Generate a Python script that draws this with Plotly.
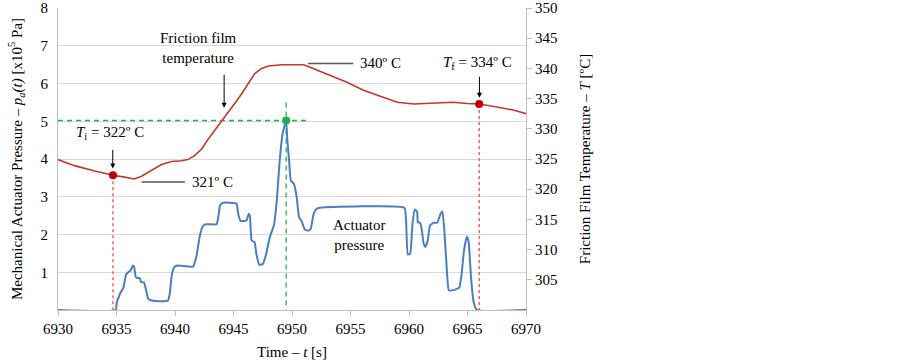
import plotly.graph_objects as go

# ---------------- data ----------------
pressure_time = [6930, 6934.95, 6935.0, 6935.3, 6935.6, 6935.8, 6936.0, 6936.2, 6936.4, 6936.5, 6936.65,
                 6936.8, 6937.0, 6937.1, 6937.35, 6937.6, 6937.7, 6938.0, 6938.7, 6939.4, 6939.55,
                 6939.7, 6939.9, 6940.2, 6941.55, 6941.85, 6942.1, 6942.3, 6942.55, 6943.55, 6943.7,
                 6943.85, 6944.1, 6945.25, 6945.4, 6945.6, 6946.1, 6946.3, 6946.4, 6946.55, 6946.8,
                 6946.95, 6947.2, 6947.5, 6947.8, 6948.1, 6948.45, 6948.7, 6948.95, 6949.2, 6949.5,
                 6949.6, 6949.75, 6949.9, 6950.15, 6950.4, 6950.6, 6950.8, 6951.1, 6951.4, 6951.6,
                 6951.85, 6952.1, 6952.4, 6959.6, 6959.75, 6959.9, 6960.1, 6960.3, 6960.5, 6960.7,
                 6960.75, 6960.95, 6961.1, 6961.25, 6961.4, 6961.6, 6961.8, 6962.1, 6962.4, 6962.7,
                 6962.85, 6963.0, 6963.2, 6963.4, 6963.65, 6964.1, 6964.3, 6964.5, 6964.7, 6964.95,
                 6965.1, 6965.3, 6965.5, 6965.8, 6970]
pressure_value = [0, 0, 0.16, 0.43, 0.6, 0.92, 1.0, 1.05, 1.18, 1.15, 0.87,
                  0.85, 0.84, 0.74, 0.73, 0.43, 0.3, 0.25, 0.23, 0.25, 0.43,
                  0.87, 1.12, 1.18, 1.15, 1.45, 1.93, 2.17, 2.27, 2.27, 2.46,
                  2.77, 2.84, 2.82, 2.55, 2.36, 2.37, 2.55, 2.5, 1.84, 1.8,
                  1.49, 1.2, 1.22, 1.49, 1.93, 2.24, 2.9, 3.97, 4.67, 5.02,
                  4.5, 3.97, 3.43, 3.35, 2.99, 2.46, 2.37, 2.13, 2.1, 2.15,
                  2.55, 2.68, 2.71, 2.71, 2.37, 1.47, 1.49, 2.29, 2.66, 2.6,
                  2.33, 2.31, 2.11, 1.76, 1.67, 1.84, 2.24, 2.31, 2.31, 2.55,
                  2.61, 2.2, 1.23, 0.52, 0.52, 0.56, 0.6, 0.96, 1.58, 1.95,
                  1.8, 0.87, 0.25, 0.0, 0.0]

temp_time = [6930, 6931.4, 6933.15, 6934.7, 6935.7, 6936.5, 6937.1, 6938.0, 6938.85, 6939.7,
             6940.55, 6941.1, 6941.7, 6942.3, 6942.8, 6943.4, 6944.0, 6944.55, 6945.1, 6945.7,
             6946.25, 6946.8, 6947.4, 6948.0, 6949.1, 6950.1, 6951.0, 6951.8, 6953.25, 6954.7,
             6956.1, 6957.5, 6959.0, 6960.4, 6961.8, 6963.8, 6964.95, 6966.0, 6967.5, 6968.9, 6970]
temp_value = [324.9, 323.9, 323.0, 322.3, 322.0, 321.7, 322.1, 323.1, 324.1, 324.6,
              324.7, 324.9, 325.6, 326.7, 328.2, 329.75, 331.25, 332.8, 334.2, 335.8,
              337.5, 339.1, 340.0, 340.4, 340.6, 340.6, 340.6, 340.0, 338.9, 337.7,
              336.4, 335.4, 334.4, 334.1, 334.2, 334.4, 334.2, 334.1, 333.6, 333.1, 332.5]

ti_time, ti_temp = 6934.7, 322.3
tf_time, tf_temp = 6966.0, 334.1
peak_time, peak_pressure = 6949.5, 5.02
peak_line_end = 6951.2
peak_line_top = 5.5

x_ticks = [6930, 6935, 6940, 6945, 6950, 6955, 6960, 6965, 6970]
left_ticks = [1, 2, 3, 4, 5, 6, 7, 8]
right_ticks = [305, 310, 315, 320, 325, 330, 335, 340, 345, 350]

FONT = "Liberation Serif"
RED = "#C0392B"
BLUE = "#4A7EBF"
GREEN = "#22B14C"
DASHRED = "#FF4444"

fig = go.Figure()

# dashed guide lines
fig.add_trace(go.Scatter(x=[ti_time, ti_time], y=[ti_temp, 300], yaxis="y2", mode="lines",
                         line=dict(color=DASHRED, width=1.3, dash="3px,3px"), hoverinfo="skip"))
fig.add_trace(go.Scatter(x=[tf_time, tf_time], y=[tf_temp, 300], yaxis="y2", mode="lines",
                         line=dict(color=DASHRED, width=1.3, dash="3px,3px"), hoverinfo="skip"))
fig.add_trace(go.Scatter(x=[6930, peak_line_end], y=[peak_pressure, peak_pressure], mode="lines",
                         line=dict(color=GREEN, width=1.3, dash="5px,4px"), hoverinfo="skip"))
fig.add_trace(go.Scatter(x=[peak_time, peak_time], y=[peak_line_top, 0], mode="lines",
                         line=dict(color=GREEN, width=1.3, dash="5px,4px"), hoverinfo="skip"))

# main series
fig.add_trace(go.Scatter(x=pressure_time, y=pressure_value, mode="lines",
                         line=dict(color=BLUE, width=2, shape="spline", smoothing=0.4)))
fig.add_trace(go.Scatter(x=temp_time, y=temp_value, yaxis="y2", mode="lines",
                         line=dict(color=RED, width=1.6)))

# markers
fig.add_trace(go.Scatter(x=[ti_time, tf_time], y=[ti_temp, tf_temp], yaxis="y2", mode="markers",
                         marker=dict(color="#C00000", size=8)))
fig.add_trace(go.Scatter(x=[peak_time], y=[peak_pressure], mode="markers",
                         marker=dict(color="#1DB050", size=8)))

ann_font = dict(family=FONT, size=15, color="black")
annotations = [
    dict(x=6941.97, y=6.95, text="Friction film<br>temperature", showarrow=False, font=ann_font),
    dict(x=6944.2, y=5.36, ax=6944.2, ay=6.27, axref="x", ayref="y", text="", showarrow=True,
         arrowhead=2, arrowsize=1, arrowwidth=1, arrowcolor="black"),
    dict(x=6934.43, y=4.68, text="<i>T</i><sub>i</sub> = 322º C", showarrow=False, font=ann_font),
    dict(x=6934.68, y=3.75, ax=6934.68, ay=4.28, axref="x", ayref="y", text="", showarrow=True,
         arrowhead=2, arrowsize=1, arrowwidth=1, arrowcolor="black"),
    dict(x=6941.27, y=3.39, text="321º C", showarrow=False, xanchor="left", font=ann_font),
    dict(x=6955.66, y=6.53, text="340º C", showarrow=False, xanchor="left", font=ann_font),
    dict(x=6965.82, y=6.55, text="<i>T</i><sub>f</sub> = 334º C", showarrow=False, font=ann_font),
    dict(x=6966.02, y=5.62, ax=6966.02, ay=6.22, axref="x", ayref="y", text="", showarrow=True,
         arrowhead=2, arrowsize=1, arrowwidth=1, arrowcolor="black"),
    dict(x=6955.74, y=2.0, text="Actuator<br>pressure", showarrow=False, font=ann_font),
]
shapes = [
    dict(type="line", x0=6937.14, x1=6940.85, y0=3.39, y1=3.39, xref="x", yref="y",
         line=dict(color="#555555", width=1.5)),
    dict(type="line", x0=6951.38, x1=6955.23, y0=6.53, y1=6.53, xref="x", yref="y",
         line=dict(color="#555555", width=1.5)),
]

fig.update_layout(
    width=902, height=362,
    margin=dict(l=58, r=376, t=8, b=52),
    paper_bgcolor="white", plot_bgcolor="white",
    showlegend=False,
    font=dict(family=FONT, size=15, color="black"),
    annotations=annotations, shapes=shapes,
    xaxis=dict(range=[6930, 6970], tickvals=x_ticks, ticks="outside", ticklen=5,
               tickcolor="#BFBFBF", showline=True, linecolor="#BFBFBF", linewidth=1,
               showgrid=False, zeroline=False, automargin=False,
               title=dict(text="Time – <i>t</i> [s]", standoff=10, font=dict(size=15))),
    yaxis=dict(range=[0, 8], tickvals=left_ticks, showgrid=True, gridcolor="#D9D9D9",
               gridwidth=1, showline=True, linecolor="#BFBFBF", zeroline=False, ticks="",
               ticklabelstandoff=6, automargin=False,
               title=dict(text="Mechanical Actuator Pressure – <i>p<sub>a</sub>(t)</i> [x10<sup>5</sup> Pa]",
                          standoff=14, font=dict(size=15))),
    yaxis2=dict(range=[300, 350], tickvals=right_ticks, overlaying="y", side="right",
                showgrid=False, showline=True, linecolor="#BFBFBF", ticks="outside",
                ticklen=5, tickcolor="#BFBFBF", zeroline=False, automargin=False,
                title=dict(text="Friction Film Temperature – <i>T</i> [ºC]", standoff=22,
                           font=dict(size=15))),
)

fig.write_html("out.html", config={"displayModeBar": False},
               post_script="document.body.style.margin='0px';")
